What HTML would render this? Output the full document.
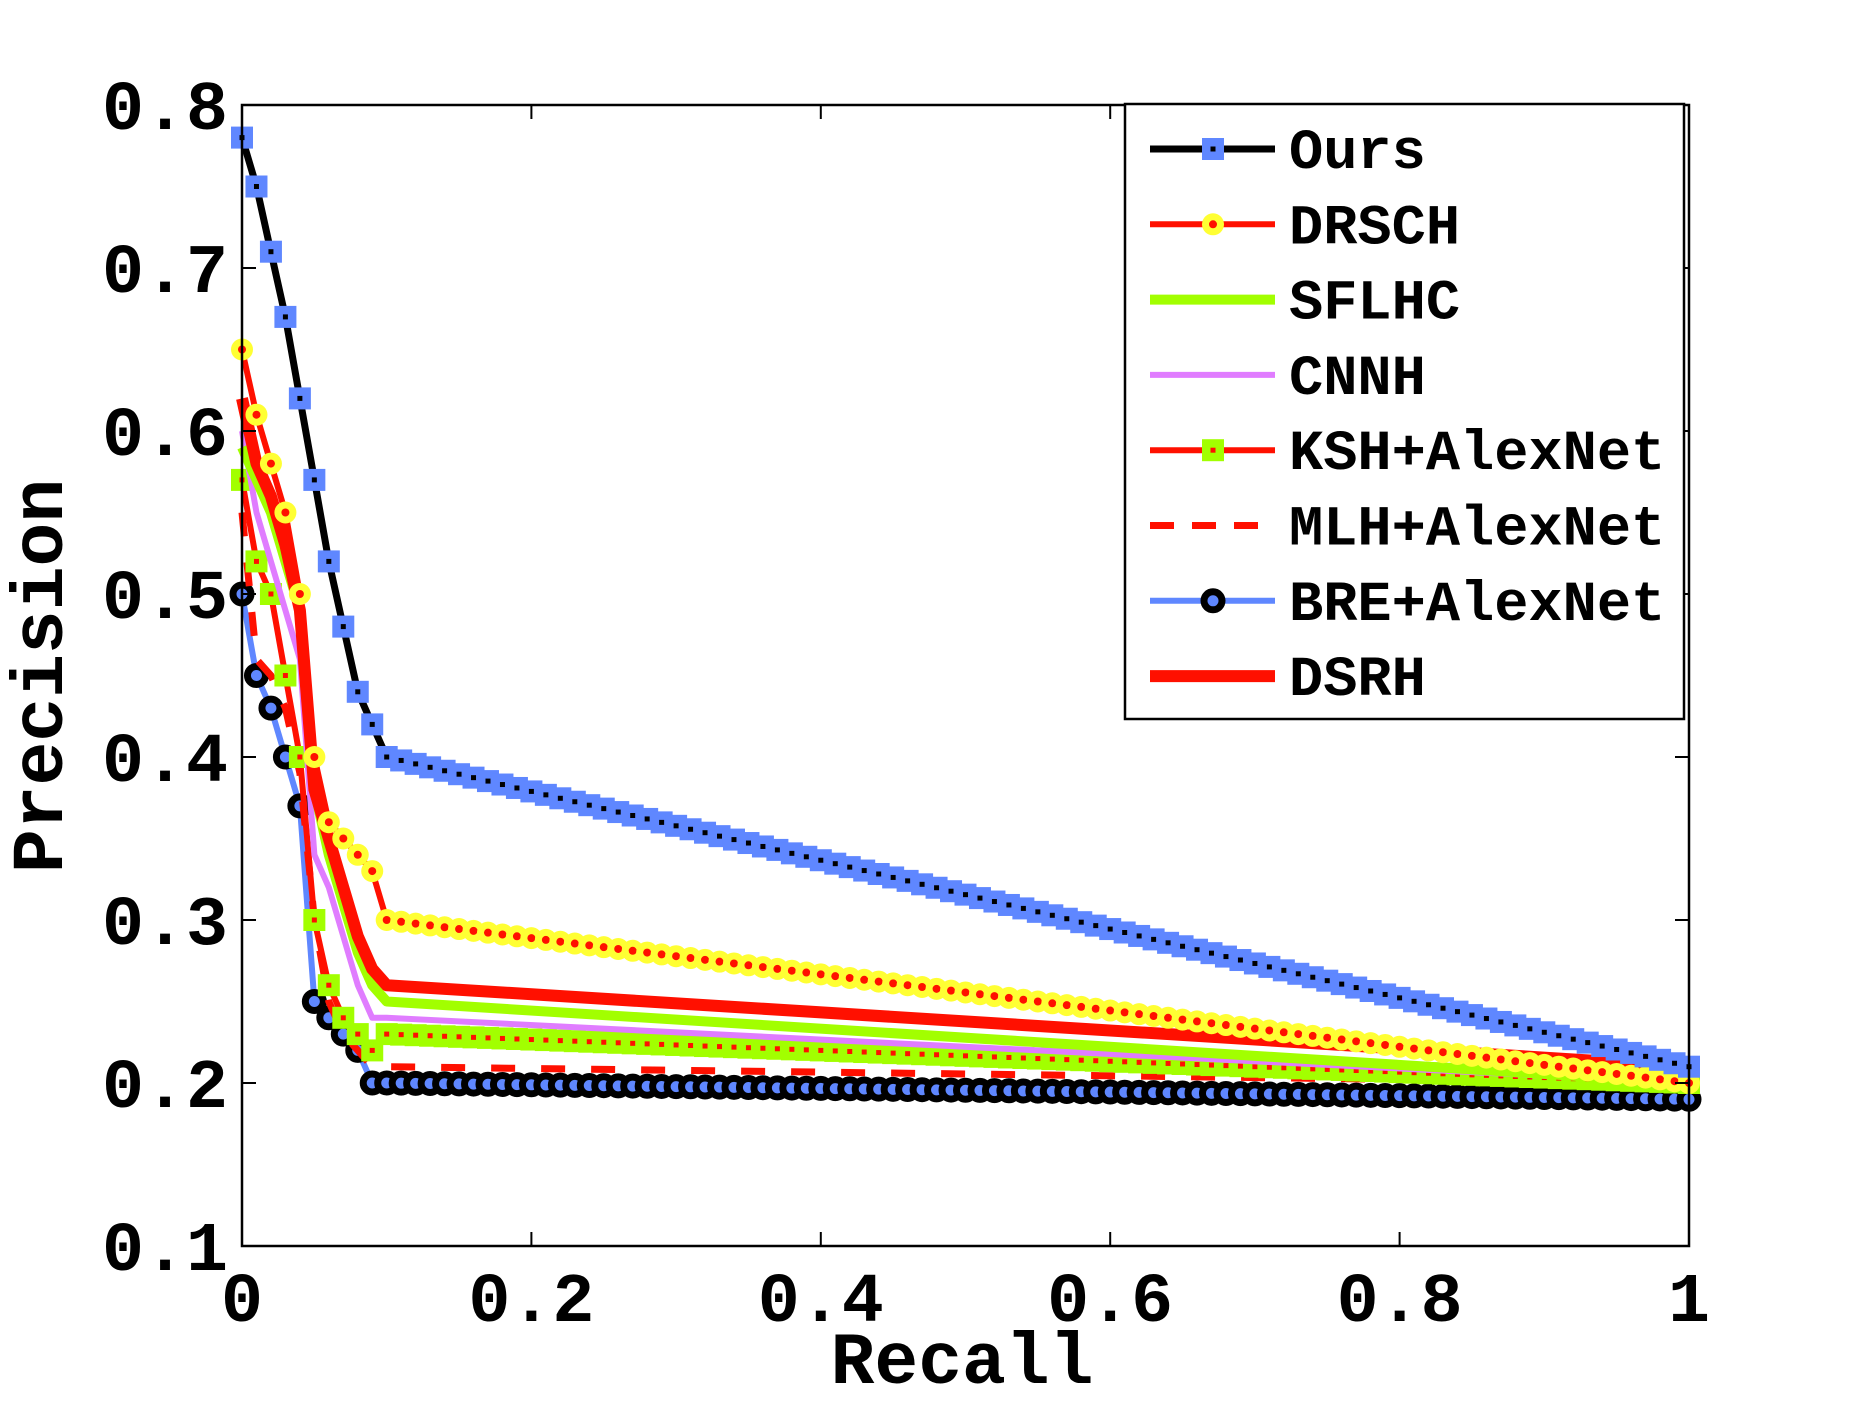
<!DOCTYPE html>
<html><head><meta charset="utf-8"><style>
html,body{margin:0;padding:0;background:#fff}
svg text{font-family:"Liberation Mono",monospace;font-weight:bold;fill:#000}
</style></head><body>
<svg id="chart" width="1867" height="1404" viewBox="0 0 1867 1404" xmlns="http://www.w3.org/2000/svg">
<rect x="0" y="0" width="1867" height="1404" fill="#fff"/>
<g id="plot"></g>
<g id="axes"></g>
<g id="legend"></g>
</svg>
<script>
const xTicks = [0, 0.2, 0.4, 0.6, 0.8, 1];
const xTickLabels = ["0", "0.2", "0.4", "0.6", "0.8", "1"];
const yTicks = [0.1, 0.2, 0.3, 0.4, 0.5, 0.6, 0.7, 0.8];
const yTickLabels = ["0.1", "0.2", "0.3", "0.4", "0.5", "0.6", "0.7", "0.8"];
const recallPts = [0, 0.01, 0.02, 0.03, 0.04, 0.05, 0.06, 0.07, 0.08, 0.09, 0.1, 1];
const oursPrec  = [0.78, 0.75, 0.71, 0.67, 0.62, 0.57, 0.52, 0.48, 0.44, 0.42, 0.40, 0.21];
const drschPrec = [0.65, 0.61, 0.58, 0.55, 0.50, 0.40, 0.36, 0.35, 0.34, 0.33, 0.30, 0.20];
const sflhcPrec = [0.59, 0.57, 0.55, 0.52, 0.49, 0.38, 0.34, 0.31, 0.28, 0.26, 0.25, 0.20];
const cnnhPrec  = [0.60, 0.55, 0.52, 0.49, 0.46, 0.34, 0.32, 0.29, 0.26, 0.24, 0.24, 0.20];
const kshPrec   = [0.57, 0.52, 0.50, 0.45, 0.40, 0.30, 0.26, 0.24, 0.23, 0.22, 0.23, 0.20];
const mlhPrec   = [0.55, 0.46, 0.45, 0.43, 0.39, 0.30, 0.25, 0.23, 0.22, 0.21, 0.21, 0.20];
const brePrec   = [0.50, 0.45, 0.43, 0.40, 0.37, 0.25, 0.24, 0.23, 0.22, 0.20, 0.20, 0.19];
const dsrhPrec  = [0.62, 0.58, 0.56, 0.53, 0.49, 0.38, 0.35, 0.32, 0.29, 0.27, 0.26, 0.21];
const seriesNames = ["Ours","DRSCH","SFLHC","CNNH","KSH+AlexNet","MLH+AlexNet","BRE+AlexNet","DSRH"];

const L=242,R=1689,T=105,B=1246;
const sx=v=>L+(v-0)/(1-0)*(R-L);
const sy=v=>T+(0.8-v)/(0.8-0.1)*(B-T);
const NS="http://www.w3.org/2000/svg";
function mk(tag,attrs,parent){const e=document.createElementNS(NS,tag);for(const k in attrs)e.setAttribute(k,attrs[k]);parent.appendChild(e);return e;}
const plot=document.getElementById('plot'),axes=document.getElementById('axes'),legend=document.getElementById('legend');

const styles=[
 {vals:oursPrec,color:"#000",w:7,marker:"sq",mfill:"#5f87ff",mdot:"#000"},
 {vals:drschPrec,color:"#ff1000",w:6,marker:"circ",mfill:"#ffff33",mdot:"#ff1000"},
 {vals:sflhcPrec,color:"#a2ff00",w:10},
 {vals:cnnhPrec,color:"#e07cff",w:6},
 {vals:kshPrec,color:"#ff1000",w:6,marker:"sq",mfill:"#a2ff00",mdot:"#ff1000"},
 {vals:mlhPrec,color:"#ff1000",w:7,dash:"24 26"},
 {vals:brePrec,color:"#5f87ff",w:6,marker:"ring",mfill:"#5f87ff",mdot:"#000"},
 {vals:dsrhPrec,color:"#ff1000",w:12}
];
const drawOrder=[6,5,4,3,2,7,1,0];

function interp(vals,r){for(let i=0;i<recallPts.length-1;i++){if(r<=recallPts[i+1]+1e-9){const t=(r-recallPts[i])/(recallPts[i+1]-recallPts[i]);return vals[i]+t*(vals[i+1]-vals[i]);}}return vals[vals.length-1];}
function drawMarker(s,x,y,g){
 if(s.marker==="sq"){const m=mk('rect',{x:x-11,y:y-11,width:22,height:22,fill:s.mfill},g);
   mk('rect',{x:x-2.5,y:y-2.5,width:5,height:5,fill:s.mdot},g);}
 else if(s.marker==="circ"){const m=mk('circle',{cx:x,cy:y,r:11,fill:s.mfill},g);
   mk('circle',{cx:x,cy:y,r:4,fill:s.mdot},g);}
 else if(s.marker==="ring"){const m=mk('circle',{cx:x,cy:y,r:9,fill:s.mfill,stroke:"#000","stroke-width":7},g);}
}
drawOrder.forEach(i=>{
 const s=styles[i];
 const g=mk('g',{},plot);
 
 
 const pts=recallPts.map((r,j)=>sx(r).toFixed(1)+","+sy(s.vals[j]).toFixed(1)).join(" ");
 const pl=mk('polyline',{points:pts,fill:"none",stroke:s.color,"stroke-width":s.w,"stroke-linejoin":"round"},g);
 if(s.dash)pl.setAttribute('stroke-dasharray',s.dash);
 
 
 if(s.marker){for(let k=0;k<=100;k++){const r=k/100;drawMarker(s,sx(r),sy(interp(s.vals,r)),g);}}
});

const box=mk('rect',{x:L,y:T,width:R-L,height:B-T,fill:"none",stroke:"#000","stroke-width":2.5},axes);

xTicks.forEach((v,i)=>{
 const x=sx(v);
 mk('line',{x1:x,y1:B,x2:x,y2:B-14,stroke:"#000","stroke-width":2},axes);
 mk('line',{x1:x,y1:T,x2:x,y2:T+14,stroke:"#000","stroke-width":2},axes);
 const t=mk('text',{x:x,y:1321,"text-anchor":"middle","font-size":70},axes);t.textContent=xTickLabels[i];
 
});
yTicks.forEach((v,i)=>{
 const y=sy(v);
 mk('line',{x1:L,y1:y,x2:L+14,y2:y,stroke:"#000","stroke-width":2},axes);
 mk('line',{x1:R,y1:y,x2:R-14,y2:y,stroke:"#000","stroke-width":2},axes);
 const t=mk('text',{x:228,y:y+24,"text-anchor":"end","font-size":70},axes);t.textContent=yTickLabels[i];
 
});
const xt=mk('text',{x:962,y:1383,"text-anchor":"middle","font-size":73},axes);xt.textContent="Recall";

const yt=mk('text',{x:0,y:0,"text-anchor":"middle","font-size":73,transform:"translate(62,676) rotate(-90)"},axes);yt.textContent="Precision";


const lb=mk('rect',{x:1125,y:104,width:559,height:615,fill:"#fff",stroke:"#000","stroke-width":2.5},legend);

seriesNames.forEach((n,i)=>{
 const s=styles[i];const y=149+i*75.3;
 const g=mk('g',{},legend);
 
 
 const ln=mk('line',{x1:1150,y1:y,x2:1275,y2:y,stroke:s.color,"stroke-width":s.w},g);
 if(s.dash)ln.setAttribute('stroke-dasharray',"24 18");
 if(s.marker)drawMarker(s,1213,y,g);
 const t=mk('text',{x:1289,y:y+19,"font-size":57},g);t.textContent=n;
});
</script>
</body></html>
